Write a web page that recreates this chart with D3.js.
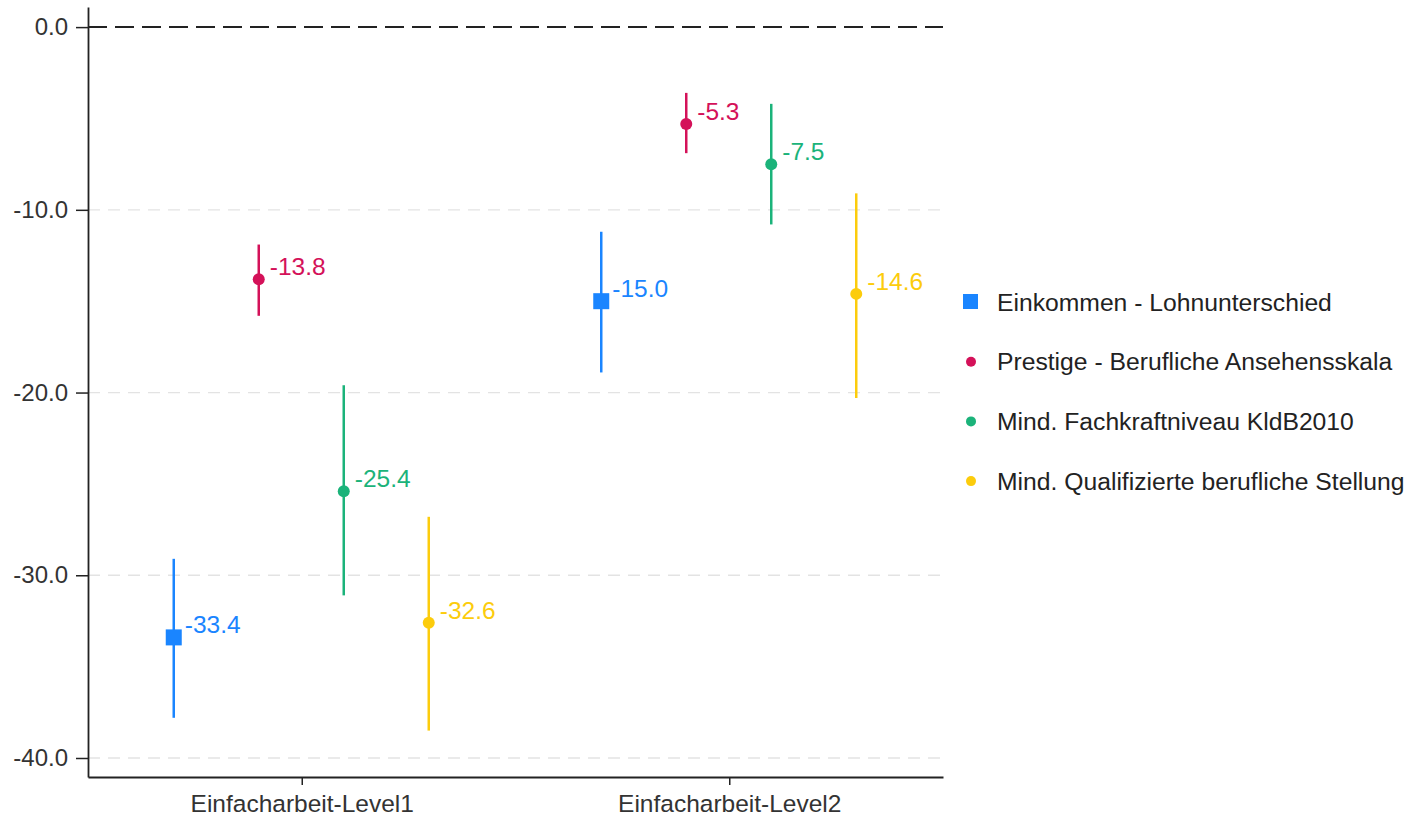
<!DOCTYPE html>
<html><head><meta charset="utf-8">
<script src="https://cdn.jsdelivr.net/npm/d3@7"></script>
<style>body{margin:0;background:#fff;}svg{display:block;font-family:"Liberation Sans",Arial,sans-serif;}</style>
</head><body><svg id="c" width="1412" height="819"></svg>
<script>
const categories = ["Einfacharbeit-Level1", "Einfacharbeit-Level2"];
const seriesNames = ["Einkommen - Lohnunterschied", "Prestige - Berufliche Ansehensskala", "Mind. Fachkraftniveau KldB2010", "Mind. Qualifizierte berufliche Stellung"];
const seriesColors = ["#1a85ff", "#d41159", "#1bb37a", "#fccc0c"];
const seriesShapes = ["square", "circle", "circle", "circle"];
const estimates = [[-33.4, -15.0], [-13.8, -5.3], [-25.4, -7.5], [-32.6, -14.6]];
const ciLower = [[-37.8, -18.9], [-15.8, -6.9], [-31.1, -10.8], [-38.5, -20.3]];
const ciUpper = [[-29.1, -11.2], [-11.9, -3.6], [-19.6, -4.2], [-26.8, -9.1]];
const yTicks = [0, -10, -20, -30, -40];

const fmt = v => d3.format(".1f")(v).replace("\u2212", "-");
const FONT = "Liberation Sans, Arial, sans-serif";
const svg = d3.select("#c");
const L = 88, R = 943, T = 7, B = 777;
const y = d3.scaleLinear().domain([-41.04, 1.1]).range([B, T]);
const x = d3.scalePoint().domain(categories).range([L, R]).padding(0.5);
const inner = d3.scalePoint().domain(seriesNames).range([-128, 127]);

// gridlines
svg.append("g").selectAll("line").data(yTicks.filter(d => d !== 0)).join("line")
  .attr("x1", L).attr("x2", R).attr("y1", d => y(d)).attr("y2", d => y(d))
  .attr("stroke", "#e3e3e3").attr("stroke-width", 1.3).attr("stroke-dasharray", "12,8");
// zero line
svg.append("line").attr("x1", L).attr("x2", R).attr("y1", y(0)).attr("y2", y(0))
  .attr("stroke", "#222").attr("stroke-width", 2).attr("stroke-dasharray", "19,8");

// axes
const yAxis = svg.append("g").attr("transform", `translate(${L},0)`)
  .call(d3.axisLeft(y).tickValues(yTicks).tickFormat(fmt).tickSize(12).tickSizeOuter(0).tickPadding(8));
yAxis.attr("font-size", null).attr("font-family", null);
yAxis.select(".domain").attr("stroke", "#222").attr("stroke-width", 1.8);
yAxis.selectAll(".tick line").attr("stroke", "#222").attr("stroke-width", 1.5);
yAxis.selectAll("text").style("font-size", "24px").attr("fill", "#333").style("font-family", FONT);

const xAxis = svg.append("g").attr("transform", `translate(0,${B})`)
  .call(d3.axisBottom(x).tickSize(8).tickPadding(10).tickSizeOuter(0));
xAxis.attr("font-size", null).attr("font-family", null);
xAxis.select(".domain").attr("stroke", "#222").attr("stroke-width", 1.8);
xAxis.selectAll(".tick line").attr("stroke", "#222").attr("stroke-width", 1.5);
xAxis.selectAll("text").style("font-size", "24.5px").attr("fill", "#333").style("font-family", FONT);

// data
seriesNames.forEach((s, si) => {
  const g = svg.append("g");
  const pts = categories.map((c, ci) => ({c, v: estimates[si][ci], lo: ciLower[si][ci], hi: ciUpper[si][ci]}));
  const px = d => x(d.c) + inner(s);
  g.selectAll("line.ci").data(pts).join("line")
    .attr("x1", px).attr("x2", px).attr("y1", d => y(d.lo)).attr("y2", d => y(d.hi))
    .attr("stroke", seriesColors[si]).attr("stroke-width", 2.5);
  if (seriesShapes[si] === "square") {
    g.selectAll("rect").data(pts).join("rect")
      .attr("x", d => px(d) - 8).attr("y", d => y(d.v) - 8).attr("width", 16).attr("height", 16)
      .attr("fill", seriesColors[si]);
  } else {
    g.selectAll("circle").data(pts).join("circle")
      .attr("cx", px).attr("cy", d => y(d.v)).attr("r", 6).attr("fill", seriesColors[si]);
  }
  g.selectAll("text").data(pts).join("text")
    .attr("x", d => px(d) + 11).attr("y", d => y(d.v) - 4)
    .style("font-size", "24.5px").style("font-family", FONT).attr("fill", seriesColors[si])
    .text(d => fmt(d.v));
});

// legend
const lg = svg.append("g");
seriesNames.forEach((s, i) => {
  const ly = 302 + i * 59.7;
  if (seriesShapes[i] === "square") {
    lg.append("rect").attr("x", 963).attr("y", ly - 8).attr("width", 15).attr("height", 15).attr("fill", seriesColors[i]);
  } else {
    lg.append("circle").attr("cx", 971).attr("cy", ly).attr("r", 5).attr("fill", seriesColors[i]);
  }
  lg.append("text").attr("x", 997).attr("y", ly).attr("dy", "0.35em")
    .style("font-size", "24.7px").style("font-family", FONT).attr("fill", "#222").text(s);
});
</script></body></html>
